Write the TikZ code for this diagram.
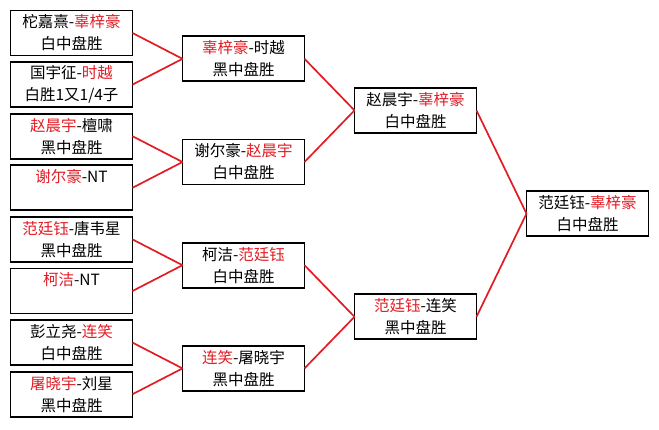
\documentclass[tikz,border=0pt]{standalone}
\usepackage{fontspec}
\setmainfont{Noto Sans CJK SC}
\usepackage{tikz}
\usetikzlibrary{positioning, calc}
\definecolor{winred}{RGB}{226,28,36}
\newcommand{\win}[1]{\textcolor{winred}{#1}}

\begin{document}
\begin{tikzpicture}[
  x=1pt, y=1pt,
  node distance=6.6pt and 49pt,
  box/.style={rectangle, draw, line width=1.8pt, outer sep=0pt, inner sep=0pt,
              minimum width=122pt, minimum height=45pt, align=center,
              font=\fontsize{15.5}{22}\selectfont},
  nextround/.style={xshift=172pt},
  link/.style={draw=winred, line width=1.7pt}
]
  \useasboundingbox (0,0) rectangle (659,-429);

  % first round
  \node[box] (r1) at (71.5,-33) {柁嘉熹-\win{辜梓豪}\\白中盘胜};
  \node[box, below=of r1] (r2) {国宇征-\win{时越}\\白胜1又1/4子};
  \node[box, below=of r2] (r3) {\win{赵晨宇}-檀啸\\黑中盘胜};
  \node[box, below=of r3] (r4) {\win{谢尔豪}-NT\\\phantom{中}};
  \node[box, below=of r4] (r5) {\win{范廷钰}-唐韦星\\黑中盘胜};
  \node[box, below=of r5] (r6) {\win{柯洁}-NT\\\phantom{中}};
  \node[box, below=of r6] (r7) {彭立尧-\win{连笑}\\白中盘胜};
  \node[box, below=of r7] (r8) {\win{屠晓宇}-刘星\\黑中盘胜};

  % quarter finals
  \node[box, nextround] (q1) at ($(r1)!0.5!(r2)$) {\win{辜梓豪}-时越\\黑中盘胜};
  \node[box, nextround] (q2) at ($(r3)!0.5!(r4)$) {谢尔豪-\win{赵晨宇}\\白中盘胜};
  \node[box, nextround] (q3) at ($(r5)!0.5!(r6)$) {柯洁-\win{范廷钰}\\白中盘胜};
  \node[box, nextround] (q4) at ($(r7)!0.5!(r8)$) {\win{连笑}-屠晓宇\\黑中盘胜};

  % semi finals
  \node[box, nextround] (s1) at ($(q1)!0.5!(q2)$) {赵晨宇-\win{辜梓豪}\\白中盘胜};
  \node[box, nextround] (s2) at ($(q3)!0.5!(q4)$) {\win{范廷钰}-连笑\\黑中盘胜};

  % final
  \node[box, nextround] (fin) at ($(s1)!0.5!(s2)$) {范廷钰-\win{辜梓豪}\\白中盘胜};

  \foreach \a/\b in {r1/q1, r2/q1, r3/q2, r4/q2, r5/q3, r6/q3, r7/q4, r8/q4,
                     q1/s1, q2/s1, q3/s2, q4/s2, s1/fin, s2/fin}
    \draw[link] (\a.east) -- (\b.west);
\end{tikzpicture}
\end{document}
